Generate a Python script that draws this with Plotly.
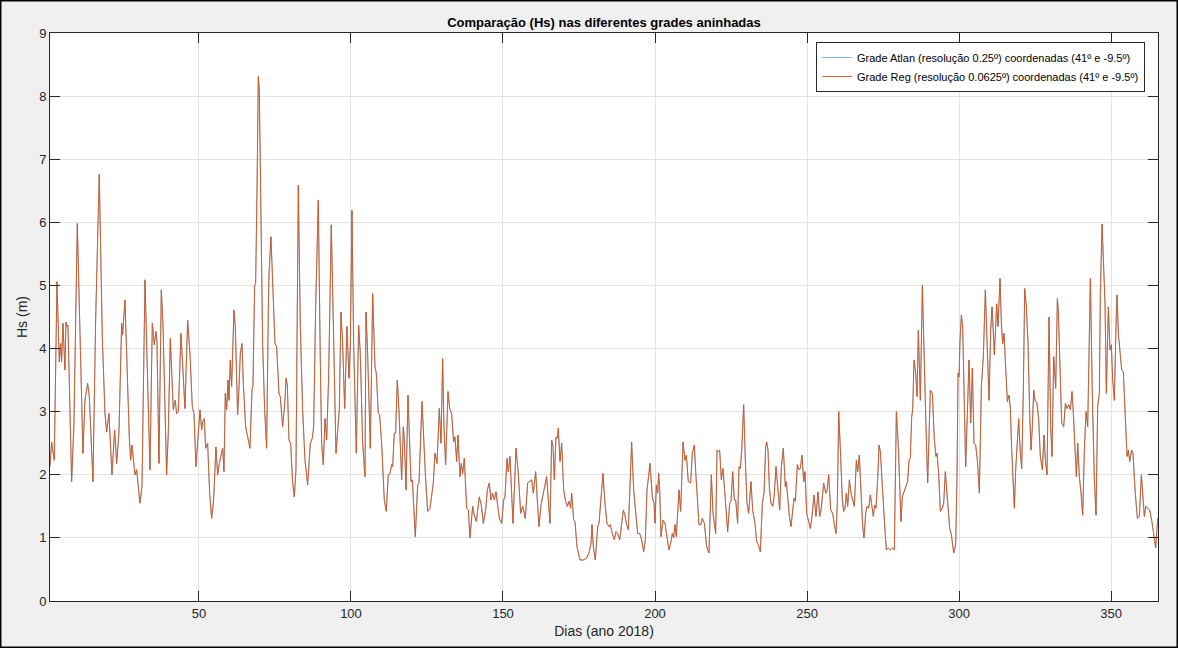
import plotly.graph_objects as go

# Day of year (2018) and significant wave height Hs (m) at 41º N, -9.5º
dias = [
    1.0, 1.54, 2.41, 3.29, 4.06, 4.5, 4.82, 5.26, 5.92, 6.25, 6.58, 6.91, 8.11, 8.88, 9.98, 10.86, 11.84, 12.5, 13.38, 13.93,
    15.13, 16.01, 17.21, 18.2, 19.08, 19.63, 20.39, 21.38, 22.26, 22.92, 23.68, 24.56, 24.89, 25.66, 26.54, 27.08, 27.52, 27.96,
    28.95, 29.5, 30.59, 31.25, 32.24, 33.88, 34.65, 35.31, 35.86, 36.18,
    36.84, 37.61, 38.16, 39.36, 39.91, 40.57, 41.56, 42.21, 42.65, 43.2, 44.08, 44.63, 45.39, 46.27, 47.04, 47.81, 48.36, 49.01,
    49.45, 50.33, 50.88, 51.21, 51.75, 52.19, 52.85, 53.51, 54.17, 54.82, 55.59, 56.14, 56.69, 57.35, 57.79, 58.22, 58.66, 59.1,
    59.54, 59.87, 60.31, 60.75, 61.18, 61.51, 61.95, 62.72, 63.16, 63.6, 64.14, 64.58, 65.35, 66.01, 66.78, 67.43, 67.76, 68.31,
    68.64, 69.08, 69.52, 69.85, 70.39, 70.94, 71.6, 72.26, 72.81,
    73.03, 73.68, 74.23, 75.0, 75.55, 76.32, 76.75, 77.52, 78.29, 78.62, 79.06, 79.61, 80.15, 80.81, 81.36, 81.91, 82.68, 83.33,
    84.1, 84.87, 85.75, 86.62, 87.28, 87.72, 88.38, 89.25, 89.91, 90.35, 90.9, 91.45, 92.0, 92.65, 93.53, 94.3, 95.07, 95.72,
    96.16, 96.71, 97.26, 97.92, 98.36, 98.68, 99.34, 99.78, 100.33, 100.88, 101.75, 102.52, 103.07, 103.84, 104.61, 104.93,
    105.48, 106.36, 107.13, 107.89, 108.33, 108.99,
    109.43, 110.09, 110.96, 111.62, 112.28, 112.83, 113.38, 113.71, 114.25, 114.69, 115.24, 115.79, 116.67, 117.21, 117.54,
    118.09, 118.75, 119.19, 119.74, 120.18, 120.61, 121.16, 121.93, 122.37, 123.36, 124.01, 124.56, 125.22, 125.99, 127.08,
    127.63, 128.29, 129.06, 129.61, 130.15, 130.59, 131.14, 131.91, 132.46, 133.11, 133.77, 134.21, 134.76, 135.2, 135.86,
    136.29, 136.73, 137.28, 138.05, 138.6, 139.14, 140.02, 140.57, 141.23, 142.21, 142.87, 143.53, 144.3, 144.85, 145.5,
    146.05, 146.6, 147.15, 147.7, 148.14, 148.79, 149.56, 150.22, 150.66, 151.32, 151.75, 152.3, 153.29, 154.28, 155.04,
    155.81, 156.47, 157.35, 158.11, 158.66, 159.43, 159.98, 160.75, 161.29, 161.84, 162.5, 163.27, 163.82, 164.36, 164.91,
    165.46, 166.01, 166.45, 166.89, 167.43, 167.87, 168.2, 168.75, 169.3, 169.96, 170.61, 171.16, 171.71, 172.26, 172.59,
    173.25, 173.68, 174.34, 175.33, 176.42, 177.52, 178.4, 178.95, 179.28, 179.71, 180.37,
    181.14, 181.58, 182.24, 182.89, 183.55, 184.21, 184.87, 185.31, 185.96, 186.62, 187.17, 187.72, 188.38, 188.82, 189.58,
    190.13, 190.57, 191.23, 192.32, 192.98, 193.75, 194.3, 194.96, 195.61, 196.27, 196.82, 197.37, 197.81, 198.36, 199.12,
    199.67, 200.0, 200.44, 200.88, 201.21, 201.54, 201.97, 202.63, 203.29, 204.06, 204.61, 205.26, 205.7, 206.14, 206.58,
    207.02, 207.89, 208.44, 209.21, 209.87, 210.31, 210.96, 211.73, 212.28, 212.94, 213.49, 214.04, 214.47, 215.13, 215.57,
    216.23,
    217.0, 217.76, 218.53, 219.08, 219.96, 220.39, 220.83, 221.27, 221.82, 222.37, 223.14, 223.9, 224.56, 225.0, 225.55,
    226.1, 226.54, 227.19, 227.63, 228.07, 228.51, 229.17, 229.71, 230.26, 230.81, 231.58, 232.13, 232.89, 233.44, 233.99,
    234.65, 235.31, 235.86, 236.4, 236.73, 237.17, 237.61, 238.16, 238.71, 239.14, 239.8, 240.46, 241.01, 241.56, 242.21,
    242.87, 243.2, 243.64, 244.19, 244.74, 245.29, 245.72, 246.16, 246.82, 247.37, 247.81, 248.36, 248.9, 249.34, 249.89,
    250.44, 251.1, 251.64, 252.3, 252.96, 253.62,
    254.17, 254.71, 255.48, 256.14, 256.58, 257.13, 257.79, 258.44, 258.99, 259.54, 259.98, 260.42, 261.07, 261.62, 262.06,
    262.5, 262.94, 263.38, 263.93, 264.47, 265.02, 265.57, 266.23, 266.67, 267.21, 267.76, 268.31, 268.75, 269.3, 269.74,
    270.29, 270.83, 271.27, 271.82, 272.26, 272.7, 273.25, 273.68, 274.12, 274.78, 275.44, 276.1, 276.75, 277.41, 278.07,
    278.73, 279.39, 280.04, 280.48, 280.92, 281.36, 282.02, 282.68, 283.11, 283.55, 283.99, 284.43, 284.76, 285.2, 285.75,
    286.18, 286.62, 287.28, 287.94, 288.6, 289.14, 289.69,
    290.57, 291.23, 291.89, 292.43, 292.76, 293.31, 293.86, 294.52, 294.96, 295.5, 295.94, 296.27, 296.93, 297.48, 298.25,
    298.9, 299.34, 299.67, 300.0, 300.33, 300.77, 301.21, 301.75, 302.19, 302.74, 303.29, 303.84, 304.38, 304.93, 305.48,
    306.03, 306.69, 307.35, 308.0, 308.66, 309.32, 309.87, 310.42, 310.86, 311.18, 311.62, 312.06, 312.39, 312.83, 313.49,
    313.93, 314.36, 314.8, 315.35, 315.9, 316.45, 316.89, 317.33, 317.76, 318.2, 318.64, 319.19, 319.63, 320.07, 320.61,
    321.16, 321.6, 322.15, 322.7, 323.25, 323.68, 324.12, 324.56, 325.0, 325.66, 326.21,
    326.75, 327.41, 327.96, 328.4, 328.95, 329.61, 330.15, 330.59, 331.14, 331.8, 332.35, 332.68, 333.22, 333.77, 334.43,
    334.98, 335.53, 336.07, 336.62, 337.17, 337.61, 338.05, 338.6, 339.04, 339.58, 340.13, 340.68, 341.23, 341.78, 342.33,
    343.2, 343.86, 344.52, 345.07, 345.61, 346.16, 346.49, 347.04, 347.59, 348.03, 348.46, 349.12, 349.67, 350.11, 350.55,
    351.1, 351.64, 351.97, 352.41, 352.96, 353.51, 354.06, 354.61, 355.26, 355.7, 356.14, 356.8, 357.24, 357.89, 358.66,
    359.32, 359.98, 360.42, 360.96, 361.4, 361.95, 362.72, 363.38, 364.14, 364.69, 365.35,
]

hs_reg = [
    2.13, 2.52, 2.23, 5.06, 3.79, 4.08, 3.79, 4.4, 3.66, 4.42, 4.35, 4.37, 1.89, 2.82, 5.98, 4.35, 2.34, 3.18, 3.45, 3.24,
    1.89, 4.45, 6.76, 4.19, 2.97, 2.68, 2.97, 2.0, 2.71, 2.18, 2.66, 4.4, 4.22, 4.77, 3.24, 2.6, 2.23, 2.47,
    2.0, 2.08, 1.55, 1.81, 5.09, 2.08, 4.4, 4.06, 4.27, 4.13,
    2.18, 4.93, 4.4, 2.0, 2.66, 4.16, 3.03, 3.18, 2.97, 3.0, 4.24, 3.82, 3.05, 4.45, 3.92, 3.08, 2.97, 2.13,
    2.44, 3.03, 2.71, 2.84, 2.89, 2.42, 2.5, 1.71, 1.31, 1.6, 2.44, 2.0, 2.18, 2.34, 2.42, 2.05, 3.29, 3.03,
    3.5, 3.18, 3.82, 3.4, 4.4, 4.61, 4.35, 2.95, 3.37, 3.92, 4.08, 3.45, 2.76, 2.6, 2.42, 3.34, 3.42, 5.0,
    5.03, 6.46, 8.31, 8.09, 5.93, 4.08, 3.03, 2.42, 4.61,
    5.19, 5.77, 4.98, 4.08, 4.03, 3.29, 3.24, 2.76, 3.18, 3.53, 3.42, 2.55, 2.5, 1.87, 1.65, 2.08, 6.59, 4.35,
    3.03, 2.23, 1.84, 2.5, 2.58, 2.76, 4.66, 6.35, 3.82, 2.5, 2.16, 2.89, 2.55, 3.55, 5.96, 3.98, 2.34, 2.76,
    3.03, 4.58, 4.08, 3.05, 3.92, 4.35, 3.53, 4.03, 6.19, 4.08, 2.34, 4.37, 3.92, 2.5, 1.97, 4.58,
    3.92, 2.42, 4.87, 3.71, 3.61, 2.97,
    2.95, 2.5, 1.6, 1.42, 2.0, 2.02, 2.16, 2.13, 2.66, 2.66, 3.5, 3.03, 1.92, 2.76, 2.55,
    1.76, 3.26, 2.5, 1.89, 1.92, 1.55, 1.02, 1.84, 1.87, 3.16, 2.37, 1.92, 1.42, 1.47, 1.87,
    2.34, 2.18, 3.05, 2.5, 3.84, 2.76, 2.16, 3.32, 3.05, 2.97, 2.52, 2.6, 2.21, 2.63, 1.97,
    2.18, 2.02, 2.26, 1.47, 1.44, 1.0, 1.5, 1.36, 1.26, 1.65, 1.52, 1.23, 1.44, 1.76, 1.87,
    1.6, 1.71, 1.6, 1.73, 1.55, 1.31, 1.23, 1.6, 1.65, 2.26, 2.05, 2.29, 1.23, 2.42, 2.02,
    1.39, 1.5, 1.31, 1.87, 1.89, 1.92, 1.71, 2.05, 1.6, 1.18, 1.52, 1.71, 1.81, 1.97, 1.6,
    1.23, 2.55, 2.44, 1.92, 2.6, 2.58, 2.74, 2.21, 2.5, 1.76, 1.58, 1.5, 1.58, 1.47, 1.71,
    1.28, 1.26, 0.86, 0.65, 0.65, 0.68, 0.78, 0.92, 1.21, 0.86, 0.65,
    1.18, 1.23, 1.65, 2.02, 1.55, 1.23, 1.18, 1.21, 1.07, 0.97, 1.1, 1.07, 0.97, 1.13, 1.44,
    1.36, 1.23, 1.13, 2.52, 1.76, 1.28, 1.07, 1.07, 0.97, 0.78, 0.97, 1.76, 1.97, 2.18, 1.65,
    1.55, 1.23, 1.84, 1.71, 2.02, 1.76, 1.02, 1.28, 1.23, 0.97, 0.81, 0.94, 1.07, 1.0, 1.21,
    1.02, 1.76, 1.42, 2.52, 2.23, 2.31, 1.89, 1.87, 2.34, 2.47, 1.97, 1.5, 1.21, 1.21, 1.31,
    1.23,
    0.86, 0.76, 2.0, 1.39, 1.07, 2.39, 2.37, 2.39, 1.92, 2.1, 1.5, 1.1, 1.55, 1.58, 2.05,
    1.6, 1.6, 1.23, 2.13, 2.1, 2.39, 3.11, 2.23, 1.55, 1.39, 1.89, 1.44, 1.23, 0.94, 0.89,
    0.78, 1.55, 1.71, 2.44, 2.52, 2.39, 1.81, 1.55, 1.5, 1.63, 2.13, 1.76, 1.44, 2.13, 2.42,
    1.81, 1.89, 1.65, 1.34, 1.18, 1.5, 1.63, 1.58, 2.16, 2.08, 2.1, 2.31, 1.89, 2.05, 1.39,
    1.28, 1.15, 1.34, 1.68, 1.34, 1.73,
    1.34, 1.47, 1.87, 1.71, 1.73, 2.0, 1.44, 1.39, 1.21, 1.07, 1.55, 3.0, 2.29, 1.6, 1.42,
    1.47, 1.71, 1.5, 1.92, 1.71, 1.6, 1.5, 2.23, 2.05, 2.31, 1.6, 1.18, 1.0, 1.39, 1.5,
    1.47, 1.68, 1.5, 1.34, 1.52, 1.47, 1.94, 2.47, 2.37, 1.76, 1.28, 0.81, 0.84, 0.81, 0.84,
    0.81, 3.0, 2.45, 1.76, 1.26, 1.65, 1.76, 1.84, 1.89, 2.23, 2.26, 2.92, 3.03, 3.82, 3.61,
    3.24, 4.29, 3.18, 5.0, 3.55, 2.76, 1.87,
    3.34, 3.29, 2.55, 2.29, 2.34, 2.02, 1.42, 1.47, 1.55, 2.05, 1.73, 1.6, 1.15, 1.05, 0.76,
    0.89, 1.97, 3.61, 3.55, 4.13, 4.53, 4.35, 3.08, 2.13, 2.97, 3.82, 2.82, 3.69, 2.5, 2.47,
    2.23, 1.71, 3.4, 3.87, 4.93, 3.92, 3.18, 4.29, 4.66, 4.35, 3.9, 4.35, 4.71, 4.35, 5.11,
    4.4, 4.08, 4.24, 3.71, 3.16, 3.26, 3.05, 2.39, 1.81, 1.47, 2.08, 2.66, 2.89, 2.42, 2.1,
    3.34, 4.95, 4.66, 4.08, 2.97, 2.39, 2.76, 3.34, 3.18, 3.13, 2.87,
    2.29, 2.08, 2.63, 2.23, 2.0, 4.5, 2.76, 2.29, 3.87, 3.37, 4.79, 4.58, 3.71, 2.82, 2.76,
    3.13, 3.05, 3.11, 3.03, 3.32, 2.97, 2.39, 1.97, 2.5, 1.97, 1.71, 1.36, 2.39, 3.0, 2.76,
    5.11, 3.24, 1.92, 1.36, 3.08, 3.29, 4.87, 5.97, 5.3, 4.71, 3.29, 4.66, 3.98, 4.06, 3.5,
    3.18, 4.35, 4.85, 4.24, 3.98, 3.66, 3.63, 2.92, 2.29, 2.39, 2.21, 2.39, 2.34, 1.76, 1.31,
    1.34, 2.0, 1.71, 1.34, 1.5, 1.47, 1.44, 1.28, 1.02, 0.84, 1.31,
]

# Atlantic grid series: coincides with the regional grid at this point
hs_atlan = list(hs_reg)

x_ticks = [50, 100, 150, 200, 250, 300, 350]
y_ticks = [0, 1, 2, 3, 4, 5, 6, 7, 8, 9]

FONT = "Liberation Sans, Arial, Helvetica, sans-serif"
AX_COLOR = "#262626"

fig = go.Figure()
fig.add_trace(go.Scatter(
    x=dias, y=hs_atlan, mode="lines",
    name="Grade Atlan (resolução 0.25º) coordenadas (41º e -9.5º)",
    line=dict(color="#0072BD", width=0.5),
))
fig.add_trace(go.Scatter(
    x=dias, y=hs_reg, mode="lines",
    name="Grade Reg (resolução 0.0625º) coordenadas (41º e -9.5º)",
    line=dict(color="#D95319", width=0.9),
))

axis_common = dict(
    showline=True, linecolor=AX_COLOR, linewidth=1, mirror="ticks",
    ticks="inside", ticklen=10, tickwidth=1, tickcolor=AX_COLOR,
    showgrid=True, gridcolor="#E3E3E3", gridwidth=1,
    zeroline=False,
    tickfont=dict(family=FONT, size=13, color=AX_COLOR),
)

fig.update_xaxes(
    range=[1, 365.45], tickvals=x_ticks,
    title=dict(text="Dias (ano 2018)", font=dict(family=FONT, size=14, color=AX_COLOR), standoff=6),
    **axis_common,
)
fig.update_yaxes(
    range=[0, 9], tickvals=y_ticks,
    title=dict(text="Hs (m)", font=dict(family=FONT, size=14, color=AX_COLOR), standoff=8),
    **axis_common,
)

# Thin frame around the whole figure
fig.add_shape(
    type="rect", xref="paper", yref="paper",
    x0=-0.0447, x1=1.0176, y0=-0.0819, y1=1.0572,
    line=dict(color="#000000", width=2), fillcolor="rgba(0,0,0,0)", layer="above",
)

fig.update_layout(
    width=1178, height=648,
    margin=dict(l=50, r=20, t=33, b=47),
    paper_bgcolor="#F0F0F0",
    plot_bgcolor="#FFFFFF",
    font=dict(family=FONT, color=AX_COLOR),
    title=dict(
        text="<b>Comparação (Hs) nas diferentes grades aninhadas</b>",
        x=0.5, xref="paper", xanchor="center",
        y=1 - 22 / 648, yref="container", yanchor="middle",
        font=dict(family=FONT, size=13, color="#000000"),
    ),
    legend=dict(
        x=0.6913, y=0.9842, xanchor="left", yanchor="top",
        bgcolor="#FFFFFF", bordercolor=AX_COLOR, borderwidth=1,
        font=dict(family=FONT, size=11, color="#000000"),
        tracegroupgap=0,
    ),
    showlegend=True,
)

fig.write_html("out.html")
